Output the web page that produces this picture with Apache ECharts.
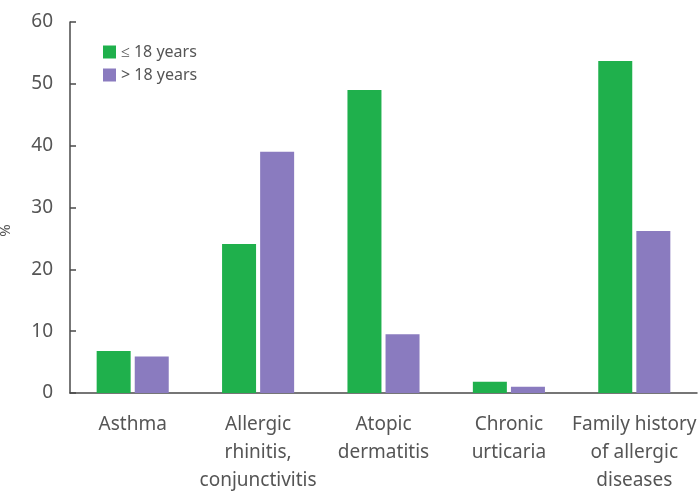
<!DOCTYPE html>
<html>
<head>
<meta charset="utf-8">
<script src="https://cdn.jsdelivr.net/npm/echarts@6/dist/echarts.min.js"></script>
<style>
html,body{margin:0;padding:0;background:#fff;}
#main{width:699px;height:496px;}
</style>
</head>
<body>
<div id="main"></div>
<script>
// categories and values
var categories = ['Asthma', 'Allergic\nrhinitis,\nconjunctivitis', 'Atopic\ndermatitis', 'Chronic\nurticaria', 'Family history\nof allergic\ndiseases'];
var under18 = [6.8, 24.1, 49.0, 1.8, 53.7];
var over18 = [5.9, 39.0, 9.5, 1.0, 26.2];
var seriesNames = ['≤ 18 years', '> 18 years'];
var yTicks = [0, 10, 20, 30, 40, 50, 60];

var FONT = 'Noto Sans';
var axisColor = '#4a4a4a';
var textColor = '#555';

var myChart = echarts.init(document.getElementById('main'));
myChart.setOption({
    animation: false,
    textStyle: { fontFamily: FONT },
    grid: { left: 70, right: 2, top: 22, bottom: 103, outerBoundsMode: 'none', containLabel: false },
    legend: {
        orient: 'vertical',
        left: 98,
        top: 39,
        itemWidth: 13,
        itemHeight: 13,
        itemGap: 7,
        icon: 'rect',
        textStyle: { fontFamily: FONT, fontSize: 16, color: textColor },
        data: seriesNames
    },
    xAxis: {
        type: 'category',
        data: categories,
        axisLine: { lineStyle: { color: axisColor, width: 1.5 } },
        axisTick: { inside: true, length: 6, lineStyle: { color: axisColor, width: 1.5 } },
        axisLabel: {
            interval: 0,
            margin: 18,
            fontFamily: FONT,
            fontSize: 19,
            lineHeight: 28,
            color: textColor
        }
    },
    yAxis: {
        type: 'value',
        min: yTicks[0],
        max: yTicks[yTicks.length - 1],
        interval: 10,
        name: '%',
        nameLocation: 'middle',
        nameRotate: 90,
        nameGap: 57,
        // push the "%" a bit below the middle, like the figure
        nameTextStyle: { fontFamily: FONT, fontSize: 15, color: textColor, padding: [0, 46, 0, 0] },
        splitLine: { show: false },
        axisLine: { show: true, lineStyle: { color: axisColor, width: 1.5 } },
        axisTick: { show: true, inside: true, length: 6, lineStyle: { color: axisColor, width: 1.5 } },
        axisLabel: { margin: 17, fontFamily: FONT, fontSize: 19, color: textColor }
    },
    series: [
        {
            name: seriesNames[0],
            type: 'bar',
            data: under18,
            barWidth: 34,
            barGap: '12%',
            itemStyle: { color: '#1fb04c' }
        },
        {
            name: seriesNames[1],
            type: 'bar',
            data: over18,
            barWidth: 34,
            barGap: '12%',
            itemStyle: { color: '#8a7bbf' }
        }
    ]
});
</script>
</body>
</html>
